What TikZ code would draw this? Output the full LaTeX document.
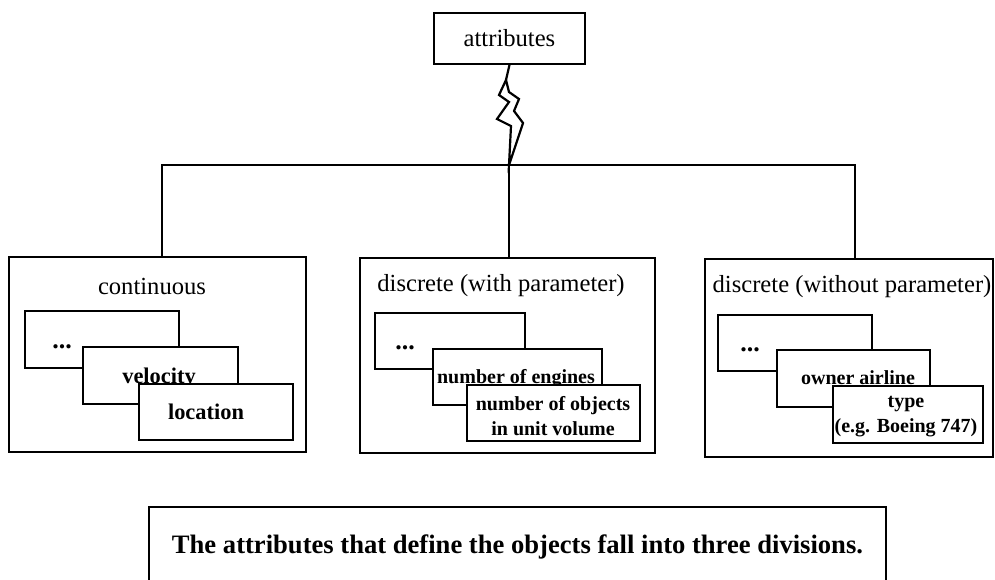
\documentclass[tikz,border=0pt]{standalone}
\usepackage{fontspec}
\setmainfont{Liberation Serif}
\begin{document}
\begin{tikzpicture}[
		x=0.5pt, y=-0.5pt,
		every node/.style={inner sep=0},
		wire/.style={line width=0.9pt},
		bolt/.style={line width=1.1pt, line join=miter},
		panel/.style 2 args={draw, line width=0.8pt, minimum width=#1*0.5pt, minimum height=#2*0.5pt},
		card/.style 2 args={draw, fill=white, line width=1.3pt, minimum width=#1*0.5pt, minimum height=#2*0.5pt},
		head/.style={font=\fontsize{12.3}{14}\selectfont},
		entry/.style={font=\fontsize{10}{12.5}\selectfont\bfseries, align=center},
		bigentry/.style={font=\fontsize{11.2}{13}\selectfont\bfseries},
		dots/.style={font=\fontsize{13}{14}\selectfont\bfseries, anchor=base},
	]
		\clip (0,0) rectangle (995,579);
		\node[panel={151}{51}] (attr) at (509.5,38.5) {\fontsize{12.3}{14}\selectfont attributes};
		\coordinate (busl) at (162,165);
		\coordinate (busmid) at (509,165);
		\coordinate (busr) at (855,165);
		\coordinate (bolttop) at (506,80);
		\draw[bolt] (attr.south) -- (bolttop);
		\draw[bolt] (bolttop) -- (499,95) -- (509,102) -- (497,119) -- (511,126) -- (busmid)
			-- (523,123) -- (514,111) -- (519,99) -- (509,92) -- cycle;

		\node[panel={297}{195}] (cont) at (157.5,354.5) {};
		\node[panel={295}{195}] (withp) at (507.5,355.5) {};
		\node[panel={288}{198}] (withoutp) at (849,358) {};
		\draw[wire] (busl |- cont.north) -- (busl) -- (busr) -- (busr |- withoutp.north);
		\draw[wire] (busmid) -- (busmid |- withp.north);

		\node[head] (conthead) at (152,286) {continuous};
		\node[card={154}{57}] (cont1) at (102,339.5) {};
		\node[dots] (cont1t) at (62,348) {...};
		\node[card={155}{57}] (cont2) at (160.5,375.5) {};
		\node[bigentry, anchor=base] (cont2t) at (159,383) {velocity};
		\node[card={154}{56}] (cont3) at (216,412) {};
		\node[bigentry, anchor=base] (cont3t) at (206,419) {location};

		\node[head] (withphead) at (501,286) {discrete (with parameter)};
		\node[card={150}{56}] (withp1) at (450,341) {};
		\node[dots] (withp1t) at (405,349) {...};
		\node[card={169}{56}] (withp2) at (517.5,377) {};
		\node[entry, anchor=base] (withp2t) at (516,383) {number of engines};
		\node[card={173}{56}] (withp3) at (553.5,413) {};
		\node[entry] (withp3t) at (553,416) {number of objects\\in unit volume};

		\node[head] (withouthead) at (852,287) {discrete (without parameter)};
		\node[card={154}{56}] (withoutp1) at (795,343) {};
		\node[dots] (withoutp1t) at (750,351) {...};
		\node[card={153}{57}] (withoutp2) at (853.5,378.5) {};
		\node[entry, anchor=base] (withoutp2t) at (858,384) {owner airline};
		\node[card={150}{57}] (withoutp3) at (908,414.5) {};
		\node[entry] (withoutp3t) at (906,417) {type\\(e.g. Boeing 747)};

		\node[panel={737}{80}, line width=1.1pt, font=\fontsize{13.3}{16}\selectfont\bfseries] (note) at (517.5,547)
			{The attributes that define the objects fall into three divisions.};
	\end{tikzpicture}
\end{document}
